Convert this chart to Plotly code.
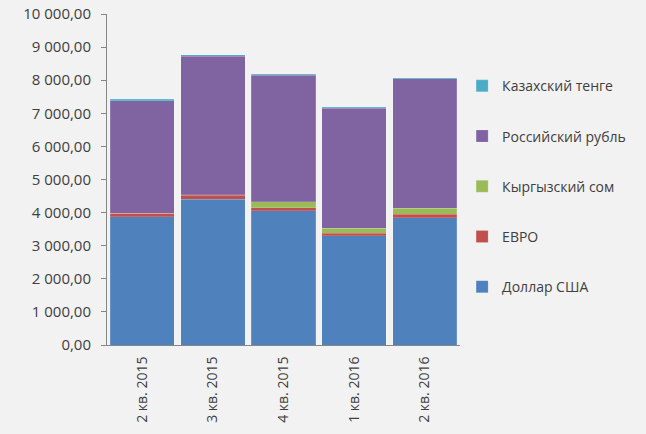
import plotly.graph_objects as go

quarters = ["2 кв. 2015", "3 кв. 2015", "4 кв. 2015", "1 кв. 2016", "2 кв. 2016"]

usd = [3870, 4410, 4060, 3300, 3845]
eur = [105, 120, 80, 75, 110]
kgs = [5, 5, 190, 150, 180]
rub = [3400, 4190, 3820, 3625, 3905]
kzt = [45, 45, 35, 35, 35]

series = [
    ("Доллар США", usd, "#4f81bd"),
    ("ЕВРО", eur, "#c0504d"),
    ("Кыргызский сом", kgs, "#9bbb59"),
    ("Российский рубль", rub, "#8064a2"),
    ("Казахский тенге", kzt, "#4bacc6"),
]

fig = go.Figure()
for i, (name, vals, color) in enumerate(series):
    fig.add_trace(go.Bar(
        x=quarters, y=vals, name=name, legendgroup=name,
        legendrank=100 - i,
        marker=dict(color=color, line=dict(color="rgba(255,255,255,0.3)", width=0.5)),
    ))

fig.update_layout(
    barmode="stack",
    bargap=0.09,
    width=646, height=434,
    margin=dict(l=107, r=186, t=14, b=89, autoexpand=False),
    paper_bgcolor="#f2f2f2",
    plot_bgcolor="#f2f2f2",
    separators=", ",
    font=dict(family="Open Sans, Noto Sans, sans-serif", size=15, color="#404040"),
    legend=dict(
        traceorder="grouped",
        x=1.006, xanchor="left",
        y=0.83, yanchor="top",
        tracegroupgap=29,
        font=dict(size=14, color="#404040"),
        bgcolor="rgba(0,0,0,0)",
        itemwidth=30,
    ),
    showlegend=True,
)
fig.update_yaxes(
    range=[0, 10000], dtick=1000, tickformat=",.2f",
    showgrid=False, zeroline=False, automargin=False,
    showline=True, linecolor="#868686", linewidth=1,
    ticks="outside", ticklen=5, tickcolor="#868686",
    ticklabelstandoff=7,
)
fig.update_xaxes(
    tickangle=-90, automargin=False,
    showline=True, linecolor="#868686", linewidth=1,
    showgrid=False, tickfont=dict(size=14),
    ticks="", ticklabelstandoff=5,
)

# the page body has a default 8px margin; drop it so the chart fills the window
fig.write_html(
    "out.html",
    config={"displayModeBar": False},
    post_script="document.body.style.margin='0px';",
)
